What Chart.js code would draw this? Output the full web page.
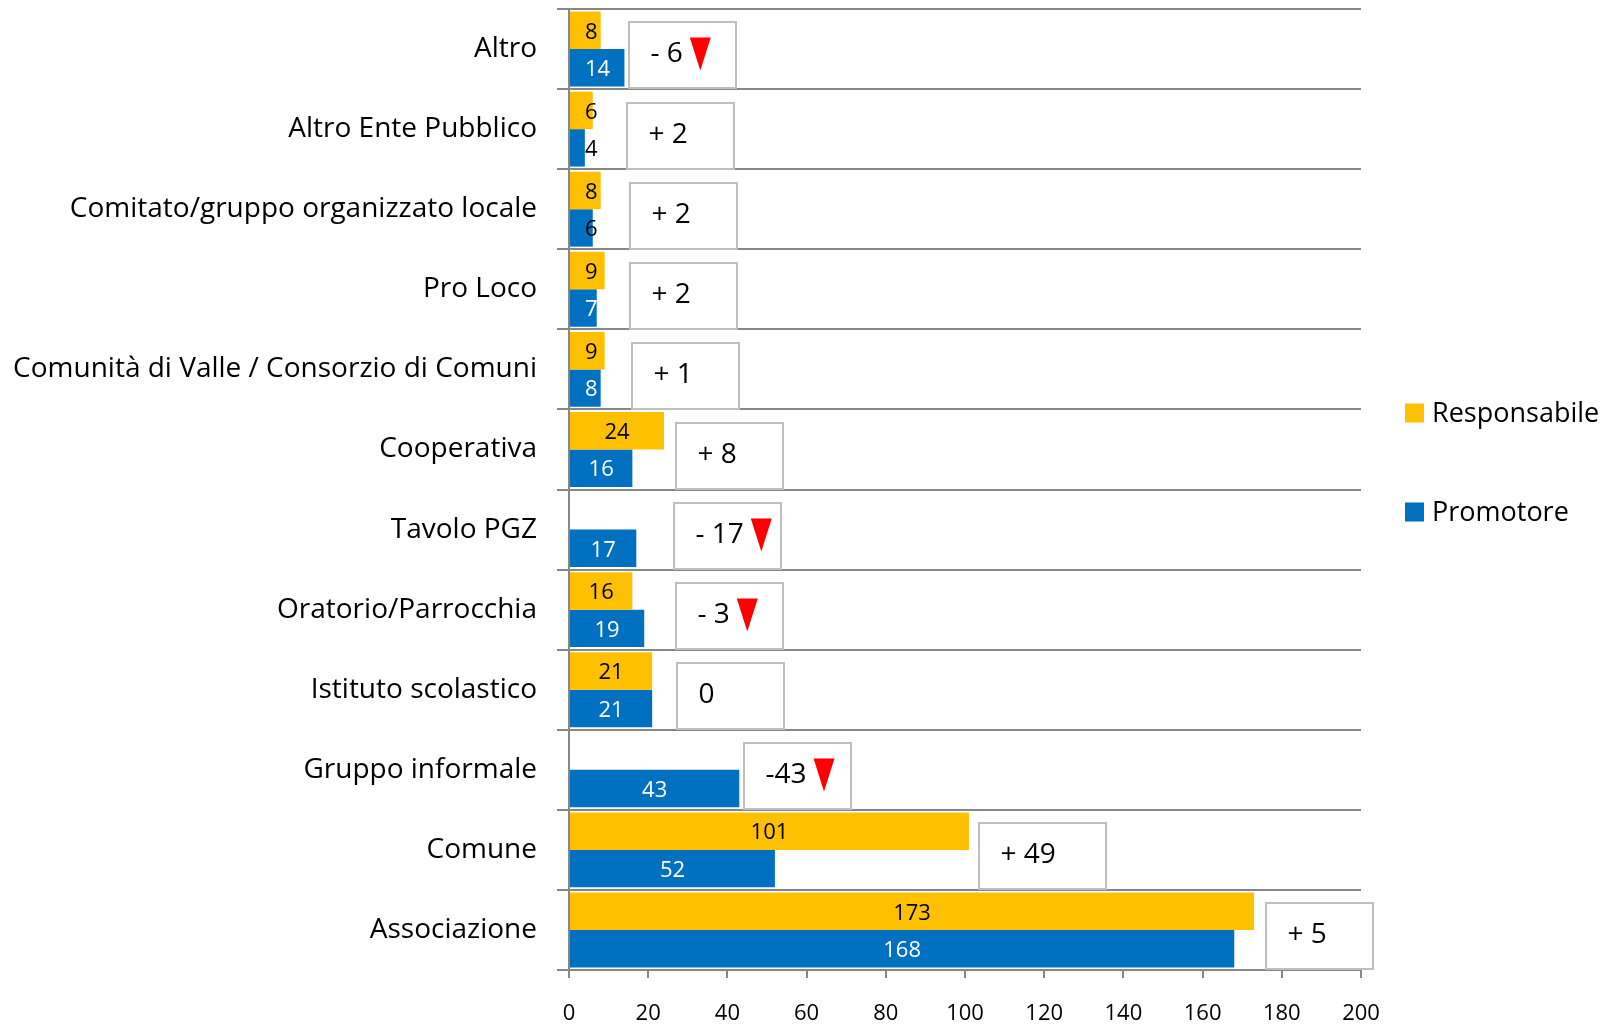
<!DOCTYPE html>
<html>
<head>
<meta charset="utf-8">
<script src="https://cdn.jsdelivr.net/npm/chart.js@4/dist/chart.umd.min.js"></script>
<style>
  html, body { margin: 0; padding: 0; background: #ffffff; }
  #wrap { width: 1610px; height: 1024px; position: relative; }
  canvas { display: block; }
</style>
</head>
<body>
<div id="wrap"><canvas id="c" width="1610" height="1024" style="width:1610px;height:1024px"></canvas></div>
<script>
// ---- data ----
const categories = [
  'Altro',
  'Altro Ente Pubblico',
  'Comitato/gruppo organizzato locale',
  'Pro Loco',
  'Comunità di Valle / Consorzio di Comuni',
  'Cooperativa',
  'Tavolo PGZ',
  'Oratorio/Parrocchia',
  'Istituto scolastico',
  'Gruppo informale',
  'Comune',
  'Associazione'
];
const seriesNames = ['Responsabile', 'Promotore'];
const responsabile = [8, 6, 8, 9, 9, 24, 0, 16, 21, 0, 101, 173];
const promotore    = [14, 4, 6, 7, 8, 16, 17, 19, 21, 43, 52, 168];
const diffLabels   = ['- 6', '+ 2', '+ 2', '+ 2', '+ 1', '+ 8', '- 17', '- 3', '0', '-43', '+ 49', '+ 5'];
const xMin = 0, xMax = 200, xStep = 20;

// ---- annotation box layout (left edge in axis units, width in px) ----
const boxStart = [15.2, 14.7, 15.5, 15.5, 16, 26.9, 26.5, 27, 27.2, 44.2, 103.5, 176];
const boxWidth = [107, 107, 107, 107, 107, 107, 107, 107, 107, 107, 127, 107];

const FONT = '"Open Sans", "Noto Sans", sans-serif';
const GRID = '#878787';
const colors = ['#FFC000', '#0070C0'];

const barLabels = {
  id: 'barLabels',
  afterDatasetsDraw(chart) {
    const { ctx, chartArea } = chart;
    ctx.save();
    ctx.font = '22px ' + FONT;
    ctx.textAlign = 'center';
    ctx.textBaseline = 'middle';
    chart.data.datasets.forEach((ds, di) => {
      const meta = chart.getDatasetMeta(di);
      meta.data.forEach((bar, i) => {
        const v = ds.data[i];
        if (!v) return;
        const t = String(v);
        const w = ctx.measureText(t).width;
        const cx = Math.max((bar.base + bar.x) / 2, chartArea.left + 16 + w / 2);
        let col = di === 0 ? '#000000' : '#ffffff';
        if (di === 1 && cx + w / 2 > bar.x + 2) col = '#000000';
        ctx.fillStyle = col;
        ctx.fillText(t, cx, bar.y + 2);
      });
    });
    ctx.restore();
  }
};

const diffBoxes = {
  id: 'diffBoxes',
  afterDraw(chart) {
    const { ctx } = chart;
    const xs = chart.scales.x, ys = chart.scales.y;
    const band = Math.abs(ys.getPixelForValue(1) - ys.getPixelForValue(0));
    ctx.save();
    categories.forEach((c, i) => {
      const left = Math.round(xs.getPixelForValue(boxStart[i]));
      const top = Math.round(ys.getPixelForValue(i) - band / 2 + 13.5);
      const w = boxWidth[i], h = 66;
      ctx.fillStyle = '#ffffff';
      ctx.fillRect(left, top, w, h);
      ctx.strokeStyle = '#bfbfbf';
      ctx.lineWidth = 2;
      ctx.strokeRect(left, top, w, h);
      ctx.font = '28px ' + FONT;
      ctx.fillStyle = '#000000';
      ctx.textAlign = 'left';
      ctx.textBaseline = 'middle';
      const tx = left + 21.5, ty = top + h / 2 - 1;
      ctx.fillText(diffLabels[i], tx, ty);
      if (responsabile[i] - promotore[i] < 0) {
        const tw = ctx.measureText(diffLabels[i]).width;
        const ax = tx + tw + 7, ay = top + h / 2 - 1;
        ctx.fillStyle = '#ff0000';
        ctx.beginPath();
        ctx.moveTo(ax, ay - 16.5);
        ctx.lineTo(ax + 21, ay - 16.5);
        ctx.lineTo(ax + 10.5, ay + 16.5);
        ctx.closePath();
        ctx.fill();
      }
    });
    ctx.restore();
  }
};

const legendRight = {
  id: 'legendRight',
  afterDraw(chart) {
    const { ctx, chartArea } = chart;
    ctx.save();
    ctx.font = '27px ' + FONT;
    ctx.textAlign = 'left';
    ctx.textBaseline = 'middle';
    chart.data.datasets.forEach((ds, di) => {
      const cy = chartArea.top + 404 + di * 99;
      const x0 = chartArea.right + 44;
      ctx.fillStyle = ds.backgroundColor;
      ctx.fillRect(x0, cy - 9.5, 19, 19);
      ctx.fillStyle = '#000000';
      ctx.fillText(ds.label, x0 + 27, cy + 1);
    });
    ctx.restore();
  }
};

new Chart(document.getElementById('c').getContext('2d'), {
  type: 'bar',
  data: {
    labels: categories,
    datasets: [
      { label: seriesNames[0], data: responsabile, backgroundColor: colors[0], barPercentage: 1, categoryPercentage: 0.935 },
      { label: seriesNames[1], data: promotore, backgroundColor: colors[1], barPercentage: 1, categoryPercentage: 0.935 }
    ]
  },
  options: {
    indexAxis: 'y',
    responsive: false,
    animation: false,
    devicePixelRatio: 1,
    layout: { autoPadding: false, padding: { top: 9, right: 249, left: 0, bottom: 0 } },
    plugins: { legend: { display: false }, tooltip: { enabled: false } },
    scales: {
      x: {
        min: xMin, max: xMax,
        ticks: { stepSize: xStep, font: { family: FONT, size: 22 }, color: '#000000', padding: 23, maxRotation: 0 },
        grid: { drawOnChartArea: false, drawTicks: true, tickLength: 8, color: GRID, lineWidth: 2 },
        border: { display: true, color: GRID, width: 2 },
        afterFit(s) { s.height = 54; s.paddingLeft = 0; s.paddingRight = 0; }
      },
      y: {
        ticks: { font: { family: FONT, size: 28 }, color: '#000000', padding: 20 },
        grid: { offset: true, color: GRID, lineWidth: 2, tickLength: 12, drawTicks: true },
        border: { display: true, color: GRID, width: 2 },
        afterFit(s) { s.width = 569; s.paddingTop = 0; s.paddingBottom = 0; }
      }
    }
  },
  plugins: [barLabels, diffBoxes, legendRight]
});
</script>
</body>
</html>
